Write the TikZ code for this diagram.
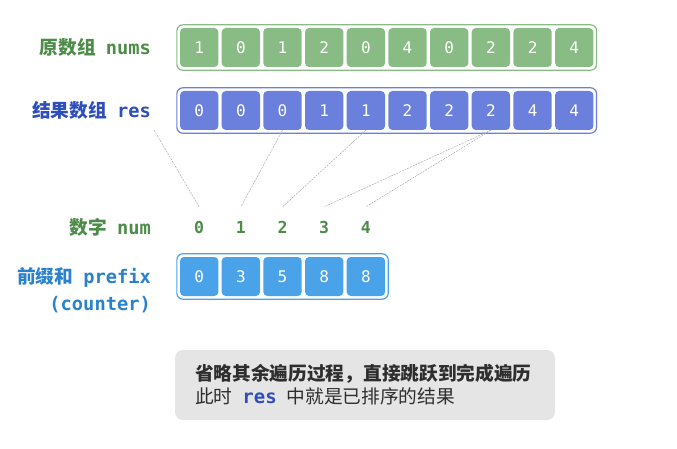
\documentclass[tikz,border=0pt]{standalone}
\usepackage{fontspec}
\setmonofont{DejaVu Sans Mono}
\newfontfamily\cjk{Noto Sans CJK SC}
\usetikzlibrary{positioning,calc,fit}

\definecolor{gcell}{HTML}{88BC84}
\definecolor{rcell}{HTML}{6A80DC}
\definecolor{pcell}{HTML}{4AA2E8}
\definecolor{glab}{HTML}{4E8C4A}
\definecolor{rlab}{HTML}{2E4EBE}
\definecolor{plab}{HTML}{2A82CC}
\definecolor{notebg}{HTML}{E5E5E5}
\definecolor{notetx}{HTML}{2E2E2E}

\tikzset{
  cell/.style={rectangle, rounded corners=4pt, minimum width=38.3pt, minimum height=39pt, inner sep=0pt, text=white, font=\ttfamily\fontsize{16}{16}\selectfont},
  row/.style={rectangle, rounded corners=6pt, inner sep=3pt, line width=1.2pt},
  lab/.style={anchor=east, inner sep=0pt, font=\bfseries\fontsize{18.7}{27}\selectfont},
  numd/.style={minimum height=40pt, inner sep=0pt, text=glab, font=\ttfamily\bfseries\fontsize{16.5}{16.5}\selectfont},
  link/.style={draw=gray!65, line width=0.5pt, dash pattern=on 2pt off 1pt},
  note/.style={fill=notebg, rounded corners=8pt, minimum width=380pt, minimum height=70pt, text width=340pt, align=left, inner sep=0pt, text=notetx, font=\cjk\fontsize{18.7}{23}\selectfont},
}

\begin{document}
\begin{tikzpicture}[x=1pt,y=-1pt]
	\useasboundingbox (0,0) rectangle (677,449);
	
	% original array
	\foreach \v [count=\i from 0] in {1,0,1,2,0,4,0,2,2,4}
		\node[cell, fill=gcell] (g\i) at (199.2+41.67*\i,47.5) {\v};
	\node[row, draw=gcell, fit=(g0)(g9)] (gbox) {};
	\node[lab, text=glab] (glabel) at (151,47.5) {{\cjk 原数组}\hspace{10pt}\texttt{nums}};
	
	% result array
	\foreach \v [count=\i from 0] in {0,0,0,1,1,2,2,2,4,4}
		\node[cell, fill=rcell] (r\i) at (199.2+41.67*\i,110.5) {\v};
	\node[row, draw=rcell, fit=(r0)(r9)] (rbox) {};
	\node[lab, text=rlab] (rlabel) at (151,110.5) {{\cjk 结果数组}\hspace{10pt}\texttt{res}};
	
	% numbers
	\foreach \i in {0,...,4}
		\node[numd] (n\i) at (199.2+41.67*\i,227) {\i};
	\node[lab, text=glab] (nlabel) at (151,227) {{\cjk 数字}\hspace{10pt}\texttt{num}};
	
	% prefix sum
	\foreach \v [count=\i from 0] in {0,3,5,8,8}
		\node[cell, fill=pcell] (p\i) at (199.2+41.67*\i,276.5) {\v};
	\node[row, draw=pcell, fit=(p0)(p4)] (pbox) {};
	\node[lab, text=plab, align=right] (plabel) at (151,290.5) {{\cjk 前缀和}\hspace{10pt}\texttt{prefix}\\\texttt{(counter)}};
	
	% links
	\coordinate (rpre) at (154,130);
	\draw[link] (rpre) -- (n0.north);
	\draw[link] (r2.south) -- (n1.north);
	\draw[link] (r4.south) -- (n2.north);
	\draw[link] (r7.south) -- (n3.north);
	\draw[link] (r7.south) -- (n4.north);
	
	% note
	\node[note] (note) at (365,385) {{\bfseries 省略其余遍历过程，直接跳跃到完成遍历}\\此时\hspace{10pt}{\ttfamily\bfseries\fontsize{19}{23}\selectfont\color{rlab}res}\hspace{10pt}中就是已排序的结果};
\end{tikzpicture}
\end{document}
